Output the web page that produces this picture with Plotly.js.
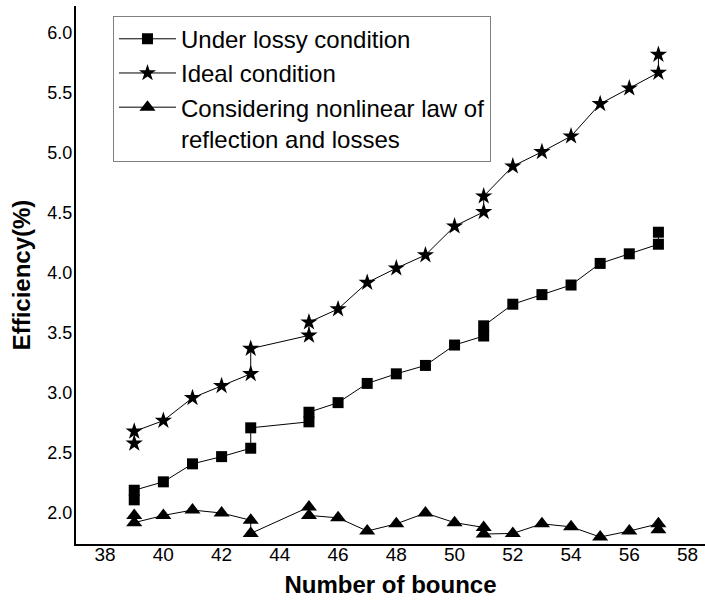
<!DOCTYPE html>
<html>
<head>
<meta charset="utf-8">
<script src="https://cdn.plot.ly/plotly-3.0.1.min.js"></script>
<style>
  html, body { margin: 0; padding: 0; background: #fff; }
  #chart { width: 705px; height: 603px; }
</style>
</head>
<body>
<div id="chart"></div>
<script>
// Bounce counts (repeated x = two measured values at the same bounce number)
const lossyX = [39, 39, 40, 41, 42, 43, 43, 45, 45, 46, 47, 48, 49, 50, 51, 51, 52, 53, 54, 55, 56, 57, 57];
const lossyY = [2.11, 2.19, 2.26, 2.41, 2.47, 2.54, 2.71, 2.76, 2.84, 2.92, 3.08, 3.16, 3.23, 3.40, 3.475, 3.56, 3.74, 3.82, 3.90, 4.08, 4.16, 4.24, 4.34];

const idealX = [39, 39, 40, 41, 42, 43, 43, 45, 45, 46, 47, 48, 49, 50, 51, 51, 52, 53, 54, 55, 56, 57, 57];
const idealY = [2.58, 2.68, 2.77, 2.96, 3.06, 3.16, 3.37, 3.48, 3.59, 3.70, 3.92, 4.04, 4.15, 4.39, 4.51, 4.64, 4.89, 5.01, 5.14, 5.41, 5.54, 5.67, 5.82];

const nonlinX = [39, 39, 40, 41, 42, 43, 43, 45, 45, 46, 47, 48, 49, 50, 51, 51, 52, 53, 54, 55, 56, 57, 57];
const nonlinY = [1.98, 1.92, 1.98, 2.025, 2.00, 1.94, 1.83, 2.05, 1.98, 1.96, 1.85, 1.91, 2.00, 1.92, 1.88, 1.825, 1.83, 1.91, 1.885, 1.80, 1.85, 1.91, 1.86];

const seriesNames = [
  'Under lossy condition',
  'Ideal condition',
  'Considering nonlinear law of<br>reflection and losses'
];

const xTicks = [38, 40, 42, 44, 46, 48, 50, 52, 54, 56, 58];
const yTicks = [2.0, 2.5, 3.0, 3.5, 4.0, 4.5, 5.0, 5.5, 6.0];

const lineStyle = { color: '#000', width: 1 };

const traces = [
  {
    x: lossyX, y: lossyY, name: seriesNames[0], mode: 'lines+markers',
    line: lineStyle,
    marker: { symbol: 'square', size: 11, color: '#000' }
  },
  {
    x: idealX, y: idealY, name: seriesNames[1], mode: 'lines+markers',
    line: lineStyle,
    marker: { symbol: 'star', size: 13, color: '#000' }
  },
  {
    x: nonlinX, y: nonlinY, name: seriesNames[2], mode: 'lines+markers',
    line: lineStyle,
    marker: { symbol: 'triangle-up', size: 14, color: '#000' }
  }
];

const font = { family: 'Liberation Sans, Arial, sans-serif', color: '#000' };

const layout = {
  width: 705,
  height: 603,
  margin: { l: 76, r: 0, t: 6, b: 59, pad: 0 },
  paper_bgcolor: '#fff',
  plot_bgcolor: '#fff',
  font: font,
  showlegend: true,
  xaxis: {
    range: [37, 58.6],
    tickvals: xTicks,
    ticktext: xTicks.map(String),
    showgrid: false,
    zeroline: false,
    showline: true,
    linecolor: '#000',
    linewidth: 2,
    ticks: '',
    ticklabelstandoff: -8,
    tickfont: { family: font.family, size: 19, color: '#000' },
    title: {
      text: 'Number of bounce',
      font: { family: font.family, size: 24, color: '#000', weight: 'bold' },
      standoff: 12
    }
  },
  yaxis: {
    range: [1.742, 6.225],
    tickvals: yTicks,
    ticktext: yTicks.map(v => v.toFixed(1)),
    showgrid: false,
    zeroline: false,
    showline: true,
    linecolor: '#000',
    linewidth: 2,
    ticks: '',
    ticklabelstandoff: -2,
    tickfont: { family: font.family, size: 18, color: '#000' },
    title: {
      text: 'Efficiency(%)',
      font: { family: font.family, size: 24, color: '#000', weight: 'bold' },
      standoff: 10
    }
  },
  legend: {
    x: 0.0588, y: 0.982, xanchor: 'left', yanchor: 'top',
    bgcolor: '#fff',
    bordercolor: '#808080',
    borderwidth: 1,
    valign: 'top',
    itemwidth: 57,
    tracegroupgap: 0,
    font: { family: font.family, size: 24, color: '#000' }
  }
};

Plotly.newPlot('chart', traces, layout, { displayModeBar: false, staticPlot: true });
</script>
</body>
</html>
